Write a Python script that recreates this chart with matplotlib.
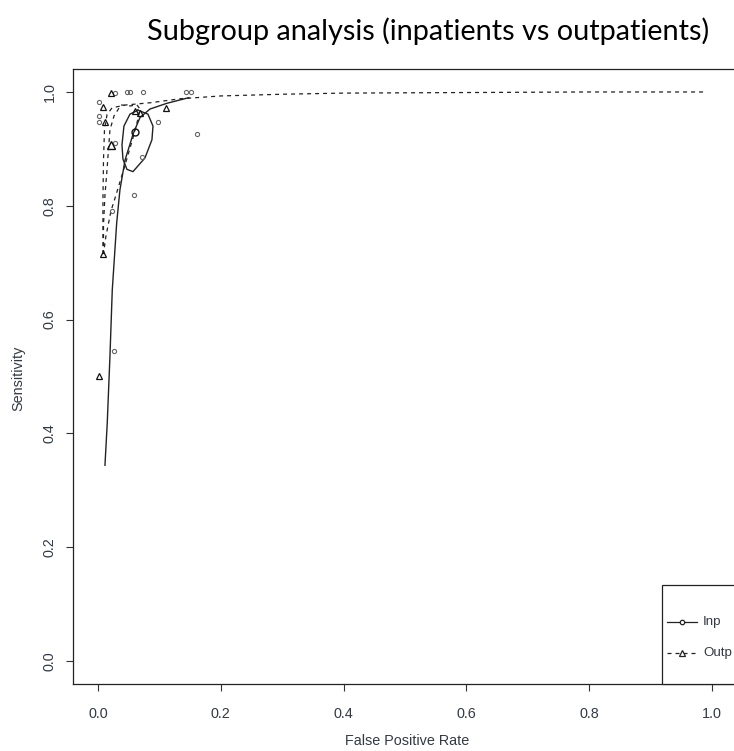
import matplotlib
matplotlib.use("Agg")
import matplotlib.pyplot as plt
from matplotlib.patches import Rectangle
from matplotlib.lines import Line2D

# ---------------- data ----------------
title = "Subgroup analysis (inpatients vs outpatients)"
xlabel = "False Positive Rate"
ylabel = "Sensitivity"
ticks = [0.0, 0.2, 0.4, 0.6, 0.8, 1.0]
tick_labels = ["0.0", "0.2", "0.4", "0.6", "0.8", "1.0"]

# individual studies - inpatients (circles)
inp_fpr = [0.028, 0.048, 0.052, 0.073, 0.143, 0.151, 0.001, 0.001, 0.001,
           0.097, 0.161, 0.027, 0.072, 0.058, 0.026, 0.023]
inp_sens = [0.998, 1.0, 1.0, 1.0, 1.0, 1.0, 0.983, 0.957, 0.948,
            0.948, 0.927, 0.910, 0.885, 0.819, 0.545, 0.791]

# individual studies - outpatients (triangles)
outp_fpr = [0.022, 0.008, 0.011, 0.110, 0.008, 0.001, 0.060, 0.068]
outp_sens = [0.999, 0.973, 0.947, 0.972, 0.715, 0.501, 0.967, 0.963]

# summary points
inp_summary = (0.061, 0.930)
outp_summary = (0.021, 0.907)

# SROC curve, inpatients (solid)
inp_sroc_fpr = [0.0114, 0.0151, 0.0195, 0.0233, 0.0305, 0.0358, 0.044,
                0.0575, 0.0684, 0.0847, 0.112, 0.148]
inp_sroc_sens = [0.344, 0.418, 0.535, 0.652, 0.770, 0.828, 0.880,
                 0.927, 0.955, 0.970, 0.980, 0.990]

# confidence region, inpatients (solid)
inp_ell_fpr = [0.0651, 0.0814, 0.0896, 0.0879, 0.0765, 0.0570, 0.0472,
               0.0407, 0.0391, 0.0423, 0.0521, 0.0651]
inp_ell_sens = [0.968, 0.961, 0.940, 0.916, 0.884, 0.860, 0.864,
                0.882, 0.907, 0.940, 0.961, 0.968]

# SROC curve, outpatients (dashed)
outp_sroc_fpr = [0.0081, 0.0081, 0.009, 0.0106, 0.0147, 0.0228, 0.044,
                 0.0847, 0.1336, 0.2, 0.3, 0.4, 0.6, 0.8, 0.99]
outp_sroc_sens = [0.715, 0.810, 0.880, 0.933, 0.960, 0.972, 0.977,
                  0.981, 0.988, 0.993, 0.996, 0.998, 0.999, 1.0, 1.0]

# confidence region, outpatients (dashed)
outp_ell_fpr = [0.0090, 0.0090, 0.0114, 0.0147, 0.0171, 0.0195, 0.0261,
                0.0375, 0.0521, 0.0635, 0.0684, 0.0651, 0.0570, 0.0489,
                0.0407, 0.0309, 0.0212, 0.0130, 0.0090]
outp_ell_sens = [0.7153, 0.7663, 0.8190, 0.8629, 0.8981, 0.9332, 0.9578,
                 0.9772, 0.9754, 0.9772, 0.9701, 0.9525, 0.9192, 0.8893,
                 0.8594, 0.8243, 0.7909, 0.7469, 0.7153]

legend_labels = ["Inp", "Outp"]

# ---------------- drawing ----------------
W, H = 734, 751
fig = plt.figure(figsize=(W / 100, H / 100), dpi=100)
ax = fig.add_axes([73.4 / W, (H - 683.8) / H, 663.2 / W, 614.6 / H])
ax.set_xlim(-0.04, 1.04)
ax.set_ylim(-0.04, 1.04)

txt_col = "#333a45"
line_col = "#222222"
dash = (0, (3.2, 3.2))

ax.plot(inp_sroc_fpr, inp_sroc_sens, color=line_col, lw=1.0)
ax.plot(inp_ell_fpr, inp_ell_sens, color=line_col, lw=1.0)
ax.plot(outp_sroc_fpr, outp_sroc_sens, color=line_col, lw=0.9, linestyle=dash)
ax.plot(outp_ell_fpr, outp_ell_sens, color=line_col, lw=0.9, linestyle=dash)

ax.plot(inp_fpr, inp_sens, linestyle="none", marker="o", ms=3.0,
        mfc="none", mec="#666666", mew=0.8)
ax.plot(outp_fpr, outp_sens, linestyle="none", marker="^", ms=4.2,
        mfc="none", mec="#111111", mew=0.9)
ax.plot([inp_summary[0]], [inp_summary[1]], linestyle="none", marker="o",
        ms=5.0, mfc="none", mec="#111111", mew=1.0)
ax.plot([outp_summary[0]], [outp_summary[1]], linestyle="none", marker="^",
        ms=6.0, mfc="none", mec="#111111", mew=1.0)

for s in ax.spines.values():
    s.set_color("#222222")
    s.set_linewidth(0.9)

ax.set_xticks(ticks)
ax.set_xticklabels(tick_labels)
ax.set_yticks(ticks)
ax.set_yticklabels(tick_labels)
ax.tick_params(axis="both", length=5, width=0.8, color="#333333",
               labelsize=10.4, labelcolor=txt_col)
ax.tick_params(axis="x", pad=12)
ax.tick_params(axis="y", pad=7, labelrotation=90)
for lbl in ax.get_yticklabels():
    lbl.set_va("center")
for lbl in ax.get_xticklabels() + ax.get_yticklabels():
    lbl.set_family("Liberation Sans")

fig.text(407 / W, 1 - 741 / H, xlabel, ha="center", va="center",
         fontsize=10.4, color=txt_col, family="Liberation Sans")
fig.text(18 / W, 1 - 378 / H, ylabel, ha="center", va="center",
         rotation=90, fontsize=10.4, color=txt_col, family="Liberation Sans")

fig.text(428.5 / W, 1 - 31 / H, title, ha="center", va="center",
         fontsize=20.8, color="black", family="Lato")

# legend box (bottom-right, as in base R)
lx0 = (662 - 73.4) / 663.2
ly1 = (683.8 - 585) / 614.6
ax.add_patch(Rectangle((lx0, 0), 1 - lx0 + 0.01, ly1, transform=ax.transAxes,
                       facecolor="white", edgecolor="#222222", lw=0.9,
                       clip_on=False, zorder=5))
ys = [(683.8 - 622) / 614.6, (683.8 - 653) / 614.6]
hx0 = (667 - 73.4) / 663.2
hx1 = (697 - 73.4) / 663.2
hm = (682 - 73.4) / 663.2
tx = (703 - 73.4) / 663.2
styles = [("-", "o", 3.2), (dash, "^", 4.5)]
for y, lab, (ls, mk, ms) in zip(ys, legend_labels, styles):
    ax.add_line(Line2D([hx0, hx1], [y, y], transform=ax.transAxes,
                       color=line_col, lw=0.9, linestyle=ls, zorder=6,
                       clip_on=False))
    ax.add_line(Line2D([hm], [y], transform=ax.transAxes, marker=mk, ms=ms,
                       mfc="white", mec="#222222", mew=0.9, zorder=7,
                       clip_on=False))
    ax.text(tx, y, lab, transform=ax.transAxes, ha="left", va="center",
            fontsize=9.6, color=txt_col, family="Liberation Sans", zorder=7)

fig.savefig("out.png", dpi=100)
